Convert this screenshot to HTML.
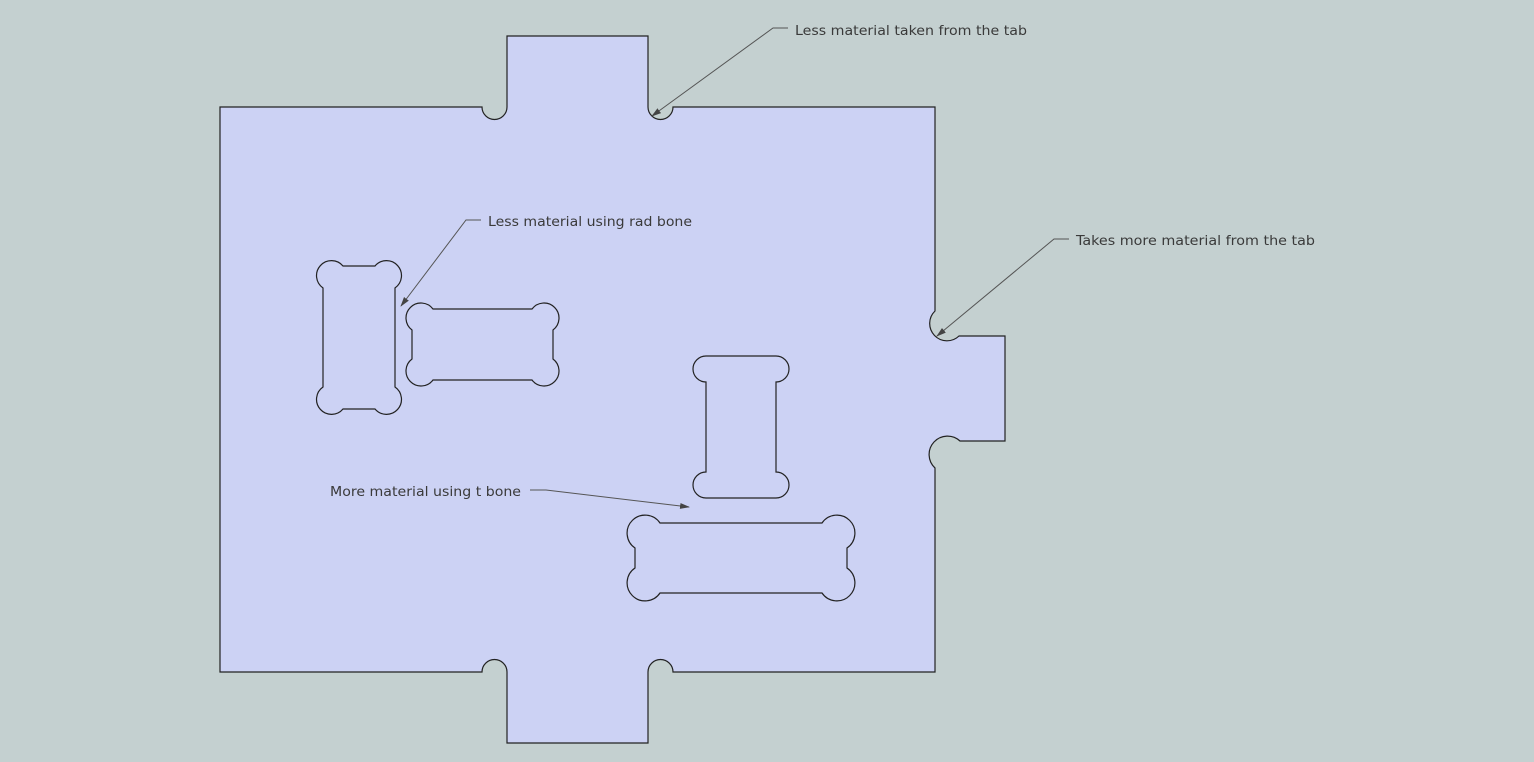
<!DOCTYPE html>
<html><head><style>
html,body{margin:0;padding:0;background:#c4d0d0;}
svg{display:block}
text{font-family:"DejaVu Sans","Liberation Sans",sans-serif;font-size:13px;fill:#3a3a3a}
</style></head><body>
<svg width="1534" height="762" viewBox="0 0 1534 762" xmlns="http://www.w3.org/2000/svg">
<defs>
<marker id="ar" markerWidth="10" markerHeight="8" refX="9" refY="4" orient="auto" markerUnits="userSpaceOnUse">
<path d="M0,1 L10,4 L0,7 Z" fill="#444"/>
</marker>
</defs>
<path d="M220,107 L482,107 A12.5 12.5 0 0 0 507,107 L507,36 L648,36 L648,107 A12.5 12.5 0 0 0 673,107 L935,107 L935,311 A17 17 0 0 0 959,336 L1005,336 L1005,441 L960,441 A17 17 0 0 0 935,468 L935,672 L673,672 A12.5 12.5 0 0 0 648,672 L648,743 L507,743 L507,672 A12.5 12.5 0 0 0 482,672 L220,672 Z" fill="#ccd2f4" stroke="#222" stroke-width="1.2"/>
<g fill="none" stroke="#222" stroke-width="1.2">
<path d="M343,266 L375,266 A15 15 0 1 1 395,288 L395,387 A15 15 0 1 1 375,409 L343,409 A15 15 0 1 1 323,387 L323,288 A15 15 0 1 1 343,266 Z"/>
<path d="M433,309 L532,309 A15 15 0 1 1 553,330 L553,359 A15 15 0 1 1 532,380 L433,380 A15 15 0 1 1 412,359 L412,330 A15 15 0 1 1 433,309 Z"/>
<path d="M706,356 L776,356 A13 13 0 0 1 776,382 L776,472 A13 13 0 0 1 776,498 L706,498 A13 13 0 0 1 706,472 L706,382 A13 13 0 0 1 706,356 Z"/>
<path d="M660,523 L822,523 A18 18 0 1 1 847,548 L847,568 A18 18 0 1 1 822,593 L660,593 A18 18 0 1 1 635,568 L635,548 A18 18 0 1 1 660,523 Z"/>
</g>
<g fill="none" stroke="#555" stroke-width="1">
<polyline points="788,28 773,28 652,116" marker-end="url(#ar)"/>
<polyline points="481,220 466,220 401,306" marker-end="url(#ar)"/>
<polyline points="1069,239 1054,239 937,336" marker-end="url(#ar)"/>
<polyline points="530,490 546,490 689,507" marker-end="url(#ar)"/>
</g>
<text x="795" y="35" textLength="232" lengthAdjust="spacingAndGlyphs">Less material taken from the tab</text>
<text x="488" y="226" textLength="204" lengthAdjust="spacingAndGlyphs">Less material using rad bone</text>
<text x="1076" y="245" textLength="239" lengthAdjust="spacingAndGlyphs">Takes more material from the tab</text>
<text x="330" y="496" textLength="191" lengthAdjust="spacingAndGlyphs">More material using t bone</text>
</svg>
</body></html>
